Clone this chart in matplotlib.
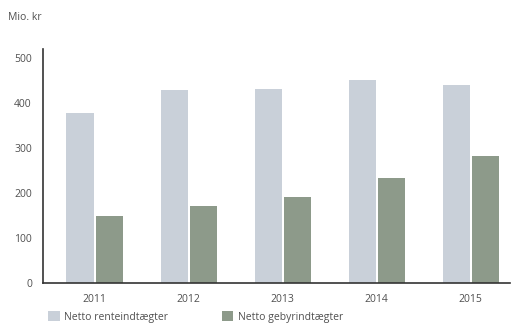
import matplotlib
matplotlib.use("Agg")
import matplotlib.pyplot as plt
import numpy as np
from matplotlib.patches import Patch

years = ["2011", "2012", "2013", "2014", "2015"]
renteindtaegter = [378, 428, 430, 450, 440]
gebyrindtaegter = [149, 171, 191, 233, 282]
series_names = ["Netto renteindtægter", "Netto gebyrindtægter"]
yticks = [0, 100, 200, 300, 400, 500]

plt.rcParams["font.family"] = ["Open Sans", "DejaVu Sans"]
text_col = "#505050"
light = "#c9d0d9"
green = "#8d9a8a"

fig = plt.figure(figsize=(5.18, 3.32), dpi=100)
ax = fig.add_axes([0.083, 0.148, 0.902, 0.705])

x = np.arange(len(years))
w = 0.29
ax.bar(x - w / 2 - 0.01, renteindtaegter, width=w, color=light, edgecolor="none")
ax.bar(x + w / 2 + 0.01, gebyrindtaegter, width=w, color=green, edgecolor="none")

ax.set_xlim(-0.55, 4.42)
ax.set_ylim(0, 520)
ax.set_xticks(x)
ax.set_xticklabels(years)
ax.set_yticks(yticks)
ax.set_yticklabels([str(v) for v in yticks])
ax.tick_params(axis="both", length=0, labelsize=7.5, colors=text_col, pad=8)
for s in ("top", "right"):
    ax.spines[s].set_visible(False)
for s in ("left", "bottom"):
    ax.spines[s].set_color("#333333")
    ax.spines[s].set_linewidth(1.2)

fig.text(0.015, 0.93, "Mio. kr", fontsize=7.5, color=text_col, ha="left", va="bottom")

handles = [Patch(facecolor=light, edgecolor="none"), Patch(facecolor=green, edgecolor="none")]
fig.legend(handles, series_names, loc="lower left", bbox_to_anchor=(0.075, 0.0),
           ncol=2, frameon=False, fontsize=7.5, handlelength=1.1, handleheight=1.0,
           handletextpad=0.4, columnspacing=5.2, labelcolor=text_col)

fig.savefig("out.png", dpi=100, facecolor="white")
